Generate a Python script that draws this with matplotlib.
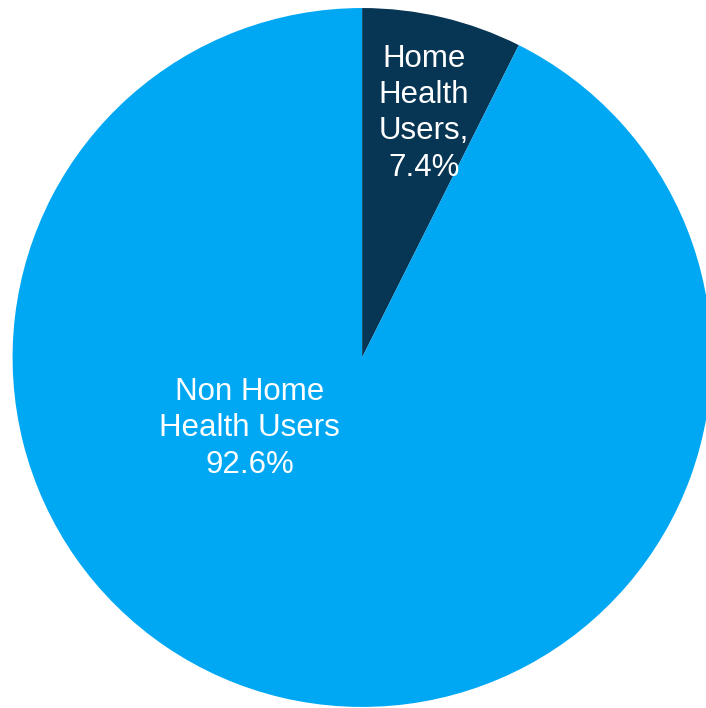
import matplotlib.pyplot as plt

plt.rcParams['font.family'] = ['Liberation Sans', 'DejaVu Sans']

labels = ['Home Health Users', 'Non Home Health Users']
shares = [7.4, 92.6]
colors = ['#073554', '#00A8F4']

fig = plt.figure(figsize=(7.06, 7.08), dpi=100)
ax = fig.add_axes([0, 0, 1, 1])

# clockwise from 12 o'clock, the big slice runs off the right edge
ax.pie(shares, colors=colors, startangle=90, counterclock=False,
       radius=1, center=(0, 0), wedgeprops=dict(linewidth=0))
ax.set_xlim(-1.036, 0.984)
ax.set_ylim(-1.003, 1.023)
ax.set_aspect('auto')
ax.axis('off')

txt = dict(color='white', fontsize=22.5, ha='center', va='center',
           linespacing=1.27)
ax.text(0.177, 0.699, 'Home\nHealth\nUsers,\n%.1f%%' % shares[0], **txt)
ax.text(-0.322, -0.203, 'Non Home\nHealth Users\n%.1f%%' % shares[1], **txt)

plt.savefig('out.png', dpi=100)
